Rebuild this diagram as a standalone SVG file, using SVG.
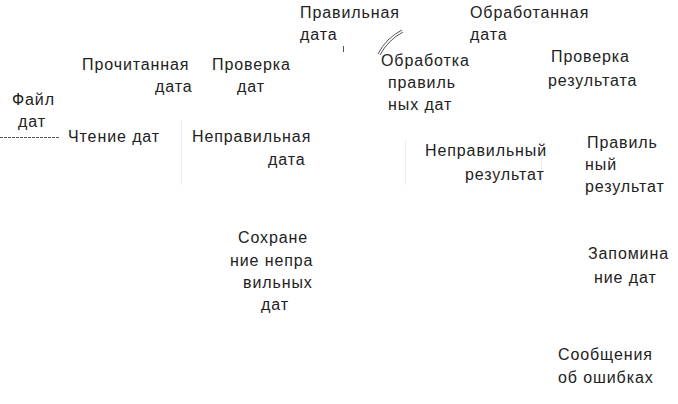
<svg xmlns="http://www.w3.org/2000/svg" width="678" height="404" viewBox="0 0 678 404">
<style>
text{font-family:"Liberation Sans",Arial,sans-serif;font-size:16px;letter-spacing:0.9px;fill:#222}
.c{fill:none;stroke:#555;stroke-width:1}
.f{fill:none;stroke:#eee;stroke-width:1}
</style>
<rect width="678" height="404" fill="#fff"/>
<g id="connectors">
<line class="c" x1="0" y1="137.5" x2="60" y2="137.5" stroke-dasharray="3,1"/>
<path class="c" d="M378,54 Q386,38 402,30" stroke="#777"/>
<path class="c" d="M380,55 Q388,40 403,32" stroke="#999"/>
<line class="c" x1="343.5" y1="46" x2="343.5" y2="52" stroke="#333" stroke-width="1.5"/>
<line class="f" x1="181.5" y1="120" x2="181.5" y2="185"/>
<line class="f" x1="405.5" y1="140" x2="405.5" y2="185"/>
<line class="f" x1="541.5" y1="140" x2="541.5" y2="185"/>
</g>
<g id="n-pravilnaya-data"><text x="300" y="18">Правильная</text><text x="300" y="40">дата</text></g>
<g id="n-obrabotannaya-data"><text x="470" y="18">Обработанная</text><text x="470" y="40">дата</text></g>
<g id="n-prochitannaya-data"><text x="82" y="70">Прочитанная</text><text x="155" y="92">дата</text></g>
<g id="n-proverka-dat"><text x="212" y="70">Проверка</text><text x="237" y="92">дат</text></g>
<g id="n-fail-dat"><text x="12" y="105">Файл</text><text x="18" y="127">дат</text></g>
<g id="n-chtenie-dat"><text x="68" y="142">Чтение дат</text></g>
<g id="n-nepravilnaya-data"><text x="192" y="142">Неправильная</text><text x="268" y="165">дата</text></g>
<g id="n-obrabotka"><text x="381" y="66">Обработка</text><text x="388" y="88">правиль</text><text x="388" y="110">ных дат</text></g>
<g id="n-proverka-rezultata"><text x="551" y="62">Проверка</text><text x="548" y="86">результата</text></g>
<g id="n-nepravilny-rezultat"><text x="425" y="156">Неправильный</text><text x="465" y="180">результат</text></g>
<g id="n-pravilny-rezultat"><text x="587" y="148">Правиль</text><text x="585" y="170">ный</text><text x="585" y="192">результат</text></g>
<g id="n-sokhranenie"><text x="238" y="243">Сохране</text><text x="230" y="266">ние непра</text><text x="243" y="288">вильных</text><text x="261" y="310">дат</text></g>
<g id="n-zapominanie"><text x="588" y="259">Запомина</text><text x="594" y="283">ние дат</text></g>
<g id="n-soobshcheniya"><text x="558" y="360">Сообщения</text><text x="558" y="383">об ошибках</text></g>
</svg>
